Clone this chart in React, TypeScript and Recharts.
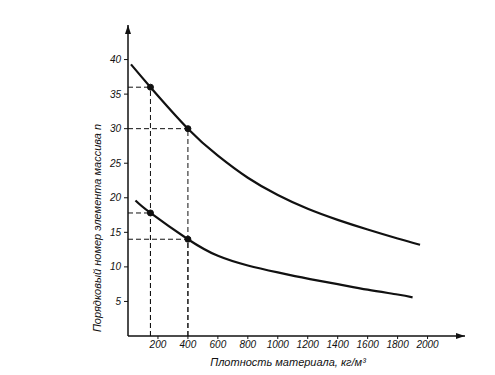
import { LineChart, Line, XAxis, YAxis, ReferenceLine, ReferenceDot, Customized } from "recharts";

// верхняя кривая
const upperX = [20, 150, 400, 600, 800, 1000, 1200, 1400, 1600, 1800, 1950];
const upperN = [39.3, 36, 30, 26.1, 22.9, 20.4, 18.4, 16.8, 15.4, 14.1, 13.2];
// нижняя кривая
const lowerX = [50, 150, 400, 600, 800, 1000, 1200, 1400, 1600, 1800, 1900];
const lowerN = [19.6, 17.8, 14, 11.6, 10.2, 9.2, 8.3, 7.5, 6.7, 6.0, 5.6];

// отмеченные точки
const markX = [150, 400, 150, 400];
const markN = [36, 30, 17.8, 14];

const xTicks = [200, 400, 600, 800, 1000, 1200, 1400, 1600, 1800, 2000];
const yTicks = [5, 10, 15, 20, 25, 30, 35, 40];

const xLabel = "Плотность материала, кг/м³";
const yLabel = "Порядковый номер элемента массива n";

const upper = upperX.map((x, i) => ({ x, n: upperN[i] }));
const lower = lowerX.map((x, i) => ({ x, n: lowerN[i] }));

const font = "'Liberation Sans', sans-serif";
const tickStyle = { fontSize: 10, fontStyle: "italic", fill: "#111", fontFamily: font };

export default function App() {
  return (
    <div style={{ position: "absolute", left: 0, top: 0, background: "#fff" }}>
      <LineChart width={495} height={375} margin={{ top: 25, right: 30, bottom: 19, left: 88 }}>
        <XAxis
          type="number"
          dataKey="x"
          domain={[0, 2250]}
          ticks={xTicks}
          allowDataOverflow
          height={20}
          tickSize={3}
          tickMargin={2}
          tick={tickStyle}
          axisLine={{ stroke: "#111", strokeWidth: 1.5 }}
          tickLine={{ stroke: "#111" }}
        />
        <YAxis
          type="number"
          domain={[0, 45]}
          ticks={yTicks}
          allowDataOverflow
          width={40}
          tickSize={4}
          tickMargin={3}
          tick={tickStyle}
          axisLine={{ stroke: "#111", strokeWidth: 1.5 }}
          tickLine={{ stroke: "#111" }}
        />
        {markX.map((x, i) => (
          <ReferenceLine
            key={"h" + i}
            segment={[{ x: 0, y: markN[i] }, { x, y: markN[i] }]}
            stroke="#111"
            strokeDasharray="5 3"
          />
        ))}
        {markX.map((x, i) => (
          <ReferenceLine
            key={"v" + i}
            segment={[{ x, y: 0 }, { x, y: markN[i] }]}
            stroke="#111"
            strokeDasharray="5 3"
          />
        ))}
        <Line data={upper} dataKey="n" type="natural" stroke="#111" strokeWidth={2.2} dot={false} isAnimationActive={false} />
        <Line data={lower} dataKey="n" type="natural" stroke="#111" strokeWidth={2.2} dot={false} isAnimationActive={false} />
        {markX.map((x, i) => (
          <ReferenceDot key={"d" + i} x={x} y={markN[i]} r={3} fill="#111" stroke="#111" />
        ))}
        <ReferenceDot
          x={2250}
          y={0}
          r={0}
          ifOverflow="visible"
          shape={(p: any) => <path d={`M${p.cx - 9},${p.cy - 3} L${p.cx},${p.cy} L${p.cx - 9},${p.cy + 3} Z`} fill="#111" />}
        />
        <ReferenceDot
          x={0}
          y={45}
          r={0}
          ifOverflow="visible"
          shape={(p: any) => <path d={`M${p.cx - 3},${p.cy + 9} L${p.cx},${p.cy} L${p.cx + 3},${p.cy + 9} Z`} fill="#111" />}
        />
        <Customized
          component={() => (
            <g fontFamily={font} fontStyle="italic" fill="#111">
              <text x={288} y={366} fontSize={11} textAnchor="middle">{xLabel}</text>
              <text x={101} y={228} fontSize={11} textAnchor="middle" transform="rotate(-90 101 228)">{yLabel}</text>
            </g>
          )}
        />
      </LineChart>
    </div>
  );
}
